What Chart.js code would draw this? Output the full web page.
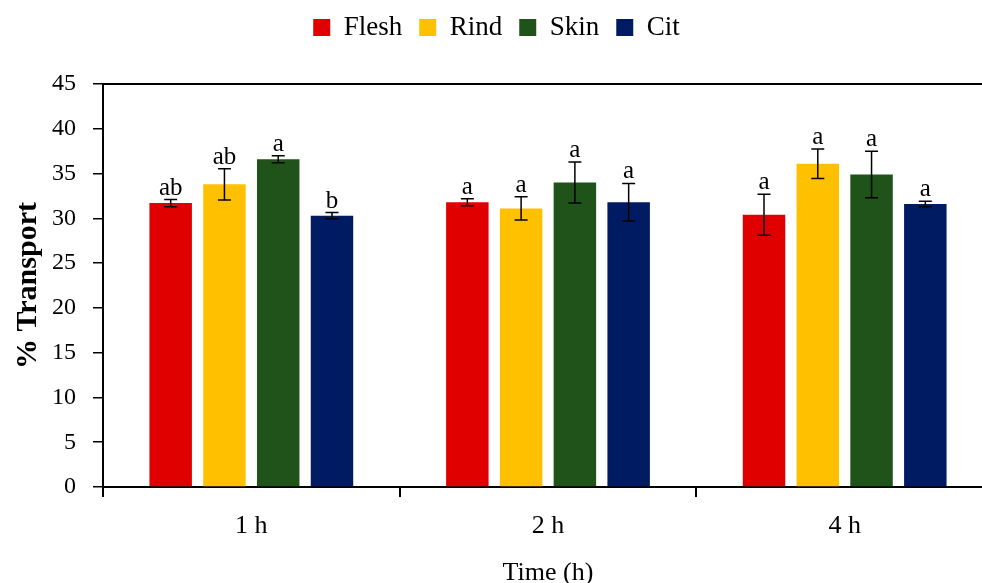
<!DOCTYPE html>
<html>
<head>
<meta charset="utf-8">
<script src="https://cdn.jsdelivr.net/npm/chart.js@4"></script>
<style>
  html, body { margin: 0; padding: 0; background: #fff; overflow: hidden; }
  #wrap { position: relative; width: 1000px; height: 583px; }
</style>
</head>
<body>
<div id="wrap"><canvas id="chart"></canvas></div>
<script>
// data
const categories = ['1 h', '2 h', '4 h'];
const seriesNames = ['Flesh', 'Rind', 'Skin', 'Cit'];
const flesh = [31.7, 31.8, 30.4];
const rind = [33.8, 31.1, 36.1];
const skin = [36.6, 34.0, 34.9];
const cit = [30.3, 31.8, 31.6];
const fleshErr = [0.4, 0.4, 2.3];
const rindErr = [1.75, 1.3, 1.65];
const skinErr = [0.4, 2.3, 2.6];
const citErr = [0.35, 2.1, 0.3];
const fleshLetters = ['ab', 'a', 'a'];
const rindLetters = ['ab', 'a', 'a'];
const skinLetters = ['a', 'a', 'a'];
const citLetters = ['b', 'a', 'a'];
const yTicks = [0, 5, 10, 15, 20, 25, 30, 35, 40, 45];

const colors = ['#E00000', '#FFC000', '#1F5319', '#001B61'];
const values = [flesh, rind, skin, cit];
const errors = [fleshErr, rindErr, skinErr, citErr];
const letters = [fleshLetters, rindLetters, skinLetters, citLetters];
const FONT = "'Liberation Serif', serif";

let datasets = [];
for (let i = 0; i < seriesNames.length; i++) {
  datasets.push({
    label: seriesNames[i],
    data: values[i],
    backgroundColor: colors[i],
    errors: errors[i],
    letters: letters[i],
    categoryPercentage: 0.725,
    barPercentage: 0.79
  });
}

// extra room under the legend
const legendGap = {
  id: 'legendGap',
  beforeInit(chart) {
    const fit = chart.legend.fit;
    chart.legend.fit = function () {
      fit.bind(chart.legend)();
      this.height += 33;
    };
  }
};

// error bars, letters and the top frame line
const extras = {
  id: 'extras',
  afterDatasetsDraw(chart) {
    const ctx = chart.ctx;
    const y = chart.scales.y;
    const area = chart.chartArea;
    ctx.save();
    ctx.strokeStyle = '#000';
    ctx.lineWidth = 2;
    ctx.beginPath();
    ctx.moveTo(area.left, area.top);
    ctx.lineTo(area.right, area.top);
    ctx.stroke();

    chart.data.datasets.forEach((ds, di) => {
      const meta = chart.getDatasetMeta(di);
      meta.data.forEach((bar, j) => {
        const v = ds.data[j], e = ds.errors[j];
        const yTop = y.getPixelForValue(v + e);
        const yBot = y.getPixelForValue(v - e);
        const x = bar.x;
        ctx.strokeStyle = '#000';
        ctx.lineWidth = 1.5;
        ctx.beginPath();
        ctx.moveTo(x, yTop); ctx.lineTo(x, yBot);
        ctx.moveTo(x - 6.5, yTop); ctx.lineTo(x + 6.5, yTop);
        ctx.moveTo(x - 6.5, yBot); ctx.lineTo(x + 6.5, yBot);
        ctx.stroke();
        ctx.fillStyle = '#000';
        ctx.font = '25px ' + FONT;
        ctx.textAlign = 'center';
        ctx.textBaseline = 'alphabetic';
        ctx.fillText(ds.letters[j], x, yTop - 5);
      });
    });
    ctx.restore();
  }
};

new Chart(document.getElementById('chart'), {
  type: 'bar',
  data: { labels: categories, datasets: datasets },
  options: {
    responsive: true,
    maintainAspectRatio: false,
    animation: false,
    layout: { padding: { top: -3, right: 7, left: 0, bottom: 0 } },
    plugins: {
      legend: {
        display: true,
        position: 'top',
        labels: {
          font: { family: FONT, size: 27 },
          color: '#000',
          boxWidth: 17,
          boxHeight: 17,
          padding: 17
        }
      },
      tooltip: { enabled: false }
    },
    scales: {
      x: {
        afterFit(axis) { axis.height = 96; },
        grid: { display: true, drawOnChartArea: false, drawTicks: true, tickLength: 10, color: '#000', lineWidth: 2 },
        border: { display: true, color: '#000', width: 2 },
        ticks: { color: '#000', font: { family: FONT, size: 26 }, padding: 14 },
        title: { display: true, text: 'Time (h)', color: '#000', font: { family: FONT, size: 26 }, padding: { top: 0, bottom: -6 } }
      },
      y: {
        min: 0,
        max: 45,
        afterBuildTicks(axis) { axis.ticks = yTicks.map(v => ({ value: v })); },
        afterFit(axis) { axis.width = 103; },
        grid: { display: true, drawOnChartArea: false, drawTicks: true, tickLength: 10, color: '#000', lineWidth: 1.5 },
        border: { display: true, color: '#000', width: 2 },
        ticks: { color: '#000', font: { family: FONT, size: 24 }, padding: 17 },
        title: { display: true, text: '% Transport', color: '#000', font: { family: FONT, size: 30, weight: 'bold' }, padding: { top: 10, bottom: 0 } }
      }
    }
  },
  plugins: [legendGap, extras]
});
</script>
</body>
</html>
